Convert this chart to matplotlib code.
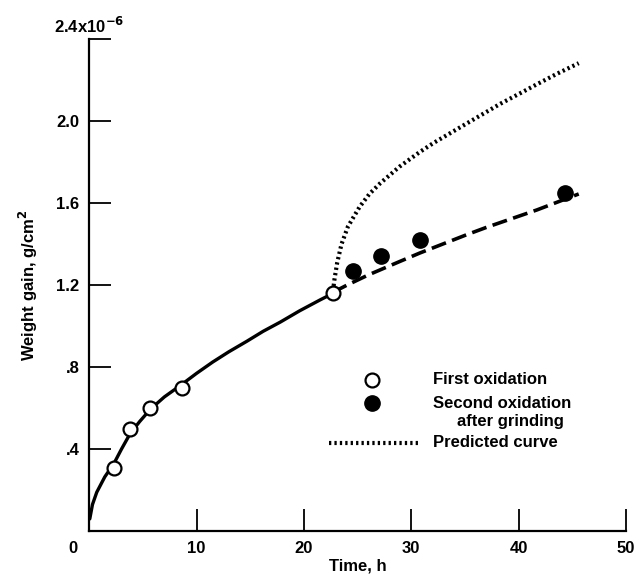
import matplotlib
matplotlib.use("Agg")
import matplotlib.pyplot as plt

plt.rcParams['font.family'] = ['Liberation Sans', 'DejaVu Sans']

# open circles - first oxidation
first_t = [2.3, 3.8, 5.7, 8.6, 22.7]
first_w = [0.31, 0.50, 0.60, 0.70, 1.16]

# filled circles - second oxidation after grinding
second_t = [24.6, 27.2, 30.8, 44.3]
second_w = [1.27, 1.34, 1.42, 1.65]

# solid curve through first oxidation
fit_t = [0.05, 0.3, 0.7, 1.45, 2.3, 3.0, 3.8, 4.7, 5.7, 7.0, 8.6, 10.0, 11.5,
         13.0, 14.7, 16.2, 17.8, 19.6, 21.5, 22.7]
fit_w = [0.06, 0.13, 0.19, 0.265, 0.33, 0.40, 0.475, 0.535, 0.595, 0.655, 0.715,
         0.77, 0.825, 0.875, 0.927, 0.975, 1.02, 1.075, 1.128, 1.16]

# dashed curve through second oxidation
dash_t = [22.7, 24.0, 26.0, 28.9, 30.8, 35.2, 37.0, 41.7, 45.6]
dash_w = [1.165, 1.20, 1.25, 1.315, 1.357, 1.447, 1.482, 1.567, 1.645]

# predicted curve (dotted)
pred_t = [22.7, 22.85, 23.1, 23.5, 24.1, 25.2, 26.1, 27.1, 28.9, 30.8, 32.05,
          33.9, 35.2, 38.3, 40.1, 41.7, 43.6, 45.6]
pred_w = [1.17, 1.23, 1.31, 1.40, 1.486, 1.583, 1.645, 1.697, 1.778, 1.85, 1.893,
          1.95, 1.99, 2.085, 2.135, 2.18, 2.232, 2.283]

xticks = [10, 20, 30, 40, 50]
yticks = [0.4, 0.8, 1.2, 1.6, 2.0, 2.4]
ytick_labels = ['.4', '.8', '1.2', '1.6', '2.0', '']

fig = plt.figure(figsize=(6.42, 5.85), dpi=100)
ax = fig.add_axes([0.139, 0.092, 0.836, 0.841])

ax.plot(fit_t, fit_w, color='black', lw=2.4, solid_capstyle='round', zorder=2)
ax.plot(dash_t, dash_w, color='black', lw=2.6, dashes=(4.2, 1.8), zorder=2)
ax.plot(pred_t, pred_w, color='black', lw=3.0, dashes=(0.55, 0.75),
        dash_capstyle='butt', zorder=2)
ax.plot(first_t, first_w, 'o', ms=10, mfc='white', mec='black', mew=1.6, zorder=3)
ax.plot(second_t, second_w, 'o', ms=11, mfc='black', mec='black', zorder=3)

# legend drawn by hand to keep the original layout
ax.plot([0.526], [0.308], 'o', ms=10, mfc='white', mec='black', mew=1.6,
        transform=ax.transAxes, clip_on=False)
ax.plot([0.526], [0.26], 'o', ms=11, mfc='black', mec='black',
        transform=ax.transAxes, clip_on=False)
ax.plot([0.446, 0.612], [0.18, 0.18], color='black', lw=3.0, dashes=(0.55, 0.75),
        dash_capstyle='butt', transform=ax.transAxes, clip_on=False)
tkw = dict(transform=ax.transAxes, fontsize=12, fontweight='bold', va='center')
ax.text(0.640, 0.308, 'First oxidation', ha='left', **tkw)
ax.text(0.640, 0.26, 'Second oxidation', ha='left', **tkw)
ax.text(0.784, 0.222, 'after grinding', ha='center', **tkw)
ax.text(0.640, 0.18, 'Predicted curve', ha='left', **tkw)

ax.set_xlim(0, 50)
ax.set_ylim(0, 2.4)
ax.spines['top'].set_visible(False)
ax.spines['right'].set_visible(False)
for s in ['left', 'bottom']:
    ax.spines[s].set_linewidth(1.6)

ax.set_xticks(xticks)
ax.set_yticks(yticks)
ax.set_yticklabels(ytick_labels)
ax.tick_params(axis='both', direction='in', length=16, width=1.3,
               labelsize=12, pad=7)
for lab in ax.get_xticklabels() + ax.get_yticklabels():
    lab.set_fontweight('bold')

ax.text(-1.5, -0.085, '0', ha='center', va='center', fontsize=12,
        fontweight='bold', clip_on=False)
ax.text(0, 2.465, '2.4x10$^{\\mathbf{-6}}$', ha='center', va='center',
        fontsize=12, fontweight='bold', clip_on=False)

ax.set_xlabel('Time, h', fontsize=12, fontweight='bold', labelpad=2)
ax.set_ylabel('Weight gain, g/cm$^\\mathbf{2}$', fontsize=12, fontweight='bold',
              labelpad=12)

fig.savefig('out.png', dpi=100)
